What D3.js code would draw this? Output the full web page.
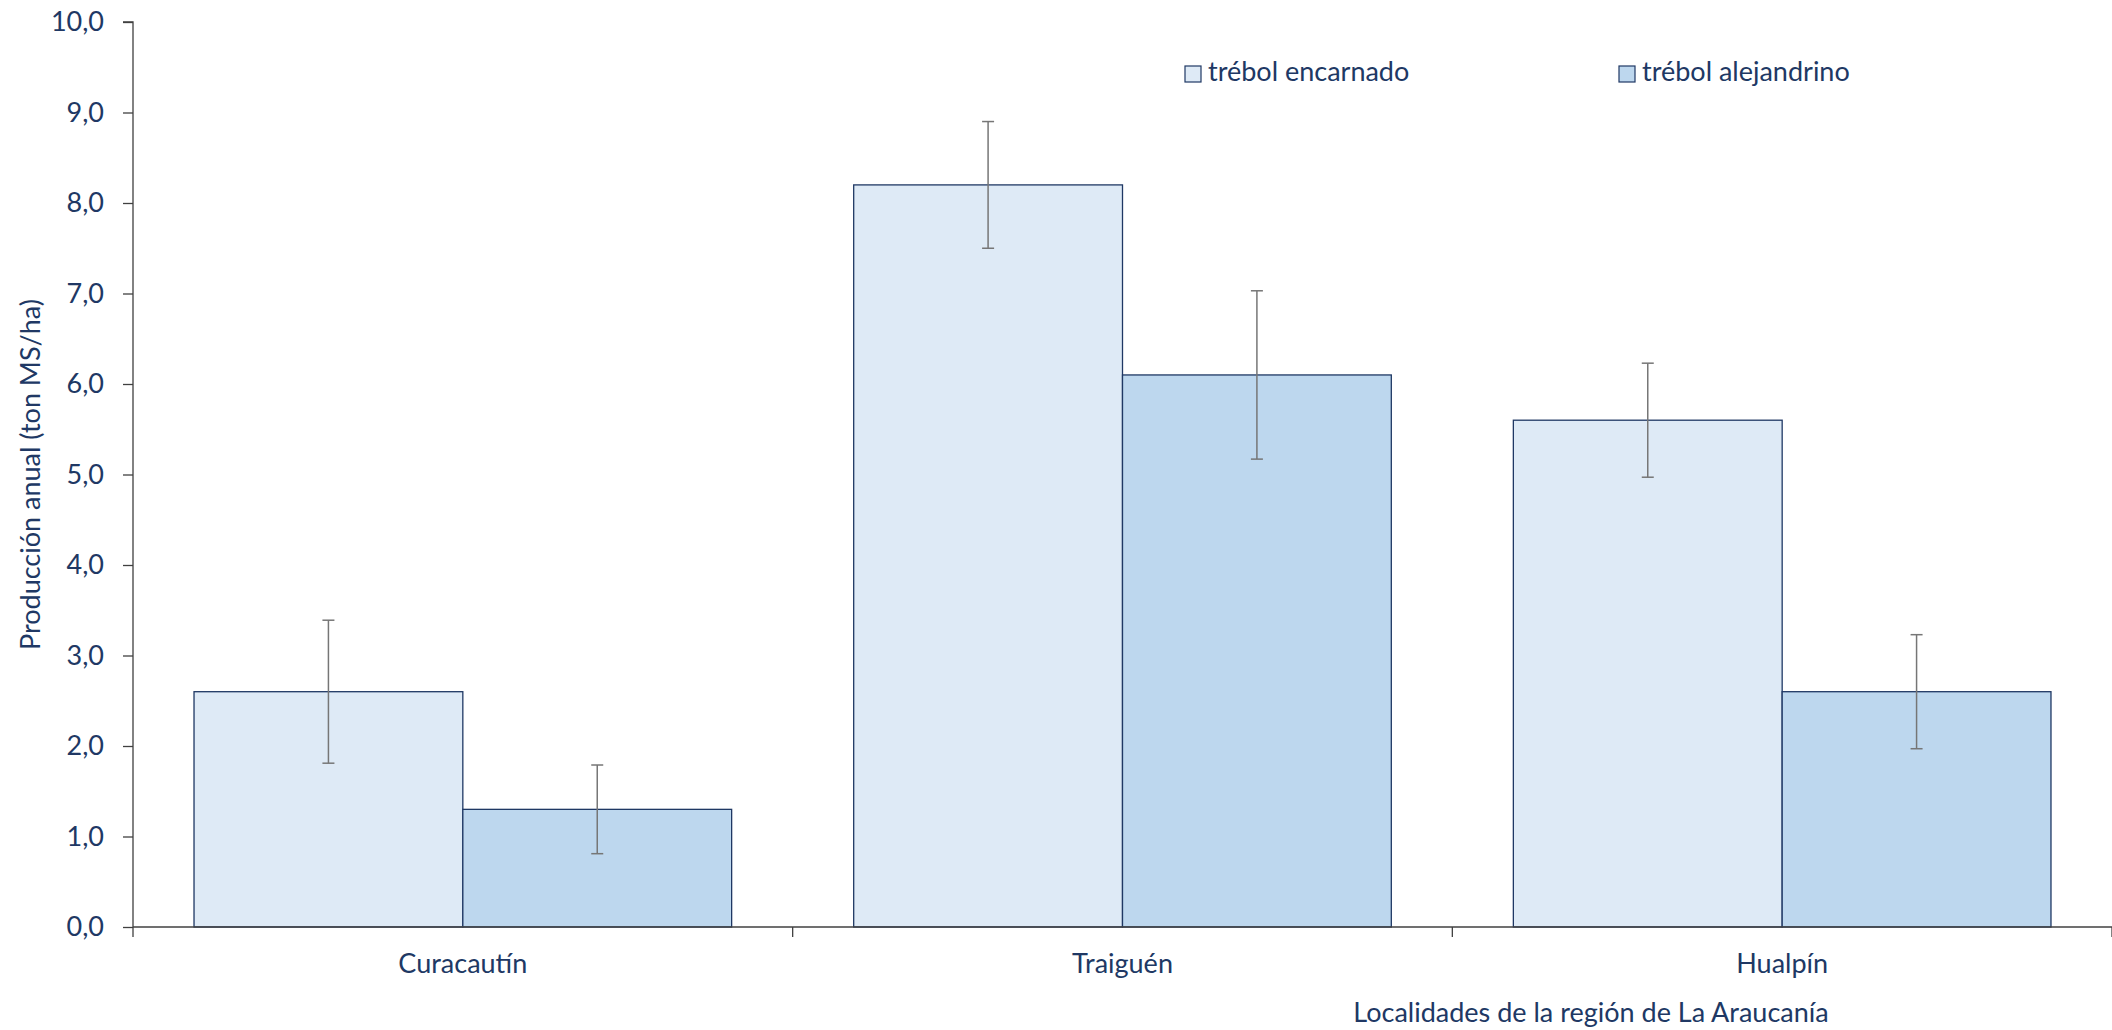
<!DOCTYPE html>
<html><head><meta charset="utf-8">
<script src="https://cdn.jsdelivr.net/npm/d3@7"></script>
<style>
html,body{margin:0;padding:0;background:#fff;}
text{font-family:"Lato","Open Sans",sans-serif;fill:#203864;}
</style></head>
<body><svg id="chart" width="2112" height="1030"></svg>
<script>
const categories = ["Curacautín", "Traiguén", "Hualpín"];
const seriesNames = ["trébol encarnado", "trébol alejandrino"];
const encarnado = [2.6, 8.2, 5.6];
const alejandrino = [1.3, 6.1, 2.6];
const errEncarnado = [0.79, 0.70, 0.63];
const errAlejandrino = [0.49, 0.93, 0.63];
const yTicks = [0,1,2,3,4,5,6,7,8,9,10];
const yTitle = "Producción anual (ton MS/ha)";
const xTitle = "Localidades de la región de La Araucanía";

const colors = ["#DEEAF6", "#BDD7EE"];
const FS = 27;
const svg = d3.select("#chart");
const mLeft = 133, mRight = 2112, mTop = 22, mBottom = 927;

const y = d3.scaleLinear().domain([0, 10]).range([mBottom, mTop]);
const x0 = d3.scaleBand().domain(categories).range([mLeft, mRight]).paddingInner(0).paddingOuter(0);
const x1 = d3.scaleBand().domain(seriesNames).range([0, x0.bandwidth()]).paddingOuter(0.227).paddingInner(0);

const data = categories.map((c, i) => ({
  cat: c,
  vals: [
    {s: seriesNames[0], v: encarnado[i], e: errEncarnado[i], c: colors[0]},
    {s: seriesNames[1], v: alejandrino[i], e: errAlejandrino[i], c: colors[1]}
  ]
}));

// bars
const g = svg.append("g");
const groups = g.selectAll("g.cat").data(data).join("g")
  .attr("transform", d => `translate(${x0(d.cat)},0)`);
groups.selectAll("rect").data(d => d.vals).join("rect")
  .attr("x", d => x1(d.s))
  .attr("y", d => y(d.v))
  .attr("width", x1.bandwidth())
  .attr("height", d => y(0) - y(d.v))
  .attr("fill", d => d.c)
  .attr("stroke", "#1F3864")
  .attr("stroke-width", 1.3);

// error bars
const eb = groups.selectAll("g.err").data(d => d.vals).join("g").attr("class", "err")
  .attr("stroke", "#767676").attr("stroke-width", 1.5);
eb.append("line")
  .attr("x1", d => x1(d.s) + x1.bandwidth()/2).attr("x2", d => x1(d.s) + x1.bandwidth()/2)
  .attr("y1", d => y(d.v + d.e)).attr("y2", d => y(d.v - d.e));
eb.append("line")
  .attr("x1", d => x1(d.s) + x1.bandwidth()/2 - 6).attr("x2", d => x1(d.s) + x1.bandwidth()/2 + 6)
  .attr("y1", d => y(d.v + d.e)).attr("y2", d => y(d.v + d.e));
eb.append("line")
  .attr("x1", d => x1(d.s) + x1.bandwidth()/2 - 6).attr("x2", d => x1(d.s) + x1.bandwidth()/2 + 6)
  .attr("y1", d => y(d.v - d.e)).attr("y2", d => y(d.v - d.e));

// y axis
const fmt = v => d3.format(".1f")(v).replace(".", ",");
const yAxis = svg.append("g").attr("transform", `translate(${mLeft},0)`)
  .call(d3.axisLeft(y).tickValues(yTicks).tickFormat(fmt).tickSize(10).tickPadding(19));
yAxis.select(".domain").attr("stroke", "#404040").attr("stroke-width", 1.3).attr("d", `M-10,${mTop}H0V${mBottom}`);
yAxis.selectAll(".tick line").attr("stroke", "#404040").attr("stroke-width", 1.3);
yAxis.selectAll(".tick text").attr("font-size", FS).attr("fill", "#203864").style("font-family", "Lato");

// x axis
const xAxisG = svg.append("g").attr("transform", `translate(0,${mBottom})`);
xAxisG.append("line").attr("x1", mLeft).attr("x2", mRight).attr("y1", 0).attr("y2", 0)
  .attr("stroke", "#404040").attr("stroke-width", 1.3);
const boundaries = categories.map(c => x0(c)).concat([x0(categories[categories.length-1]) + x0.bandwidth()]);
xAxisG.selectAll("line.tk").data(boundaries).join("line").attr("class", "tk")
  .attr("x1", d => d).attr("x2", d => d).attr("y1", 0).attr("y2", 10)
  .attr("stroke", "#404040").attr("stroke-width", 1.3);
xAxisG.selectAll("text.cl").data(categories).join("text").attr("class", "cl")
  .attr("x", d => x0(d) + x0.bandwidth()/2).attr("y", 46)
  .attr("text-anchor", "middle").attr("font-size", FS).text(d => d);

// axis titles
svg.append("text").attr("transform", `translate(40,${(mTop+mBottom)/2}) rotate(-90)`)
  .attr("text-anchor", "middle").attr("font-size", FS).text(yTitle);
svg.append("text").attr("x", 1591).attr("y", 1022).attr("text-anchor", "middle")
  .attr("font-size", FS).text(xTitle);

// legend
const legendX = [1185, 1619];
const leg = svg.selectAll("g.leg").data(seriesNames).join("g").attr("class", "leg")
  .attr("transform", (d, i) => `translate(${legendX[i]},66)`);
leg.append("rect").attr("width", 16).attr("height", 16).attr("fill", (d, i) => colors[i])
  .attr("stroke", "#1F3864").attr("stroke-width", 1.2);
leg.append("text").attr("x", 23).attr("y", 15).attr("font-size", FS).text(d => d);
</script></body></html>
